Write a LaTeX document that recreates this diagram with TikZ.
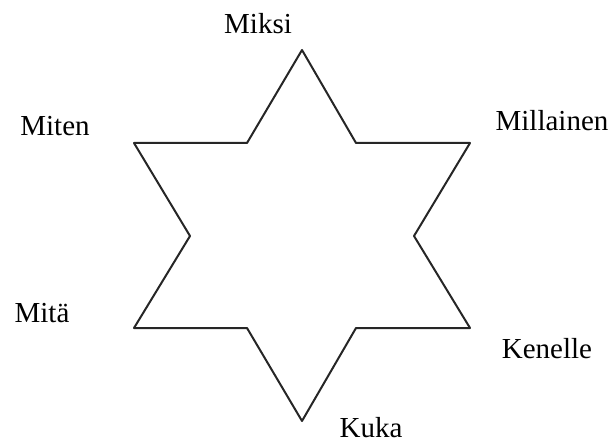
\documentclass[tikz,border=0pt]{standalone}
\usepackage{fontspec}
\setmainfont{Liberation Serif}
\begin{document}
\begin{tikzpicture}[line cap=round,line join=round,x=0.5pt,y=-0.5pt]
	\useasboundingbox (0,0) rectangle (614,443);
	\tikzset{word/.style={inner sep=0pt,font=\fontsize{14.5}{16}\selectfont}}
	% star
	\draw[line width=1pt,color=black!85] (302,50) -- (356,143) -- (470,143) -- (414,236)
		-- (470,328) -- (356,328) -- (302,421) -- (247,328) -- (134,328) -- (190,236)
		-- (134,143) -- (247,143) -- cycle;
	% words
	\node[word] (miksi) at (258,24) {Miksi};
	\node[word] (millainen) at (552,121) {Millainen};
	\node[word] (miten) at (55,126) {Miten};
	\node[word] (mita) at (42,313) {Mitä};
	\node[word] (kenelle) at (547,349) {Kenelle};
	\node[word] (kuka) at (371,428) {Kuka};
\end{tikzpicture}
\end{document}
